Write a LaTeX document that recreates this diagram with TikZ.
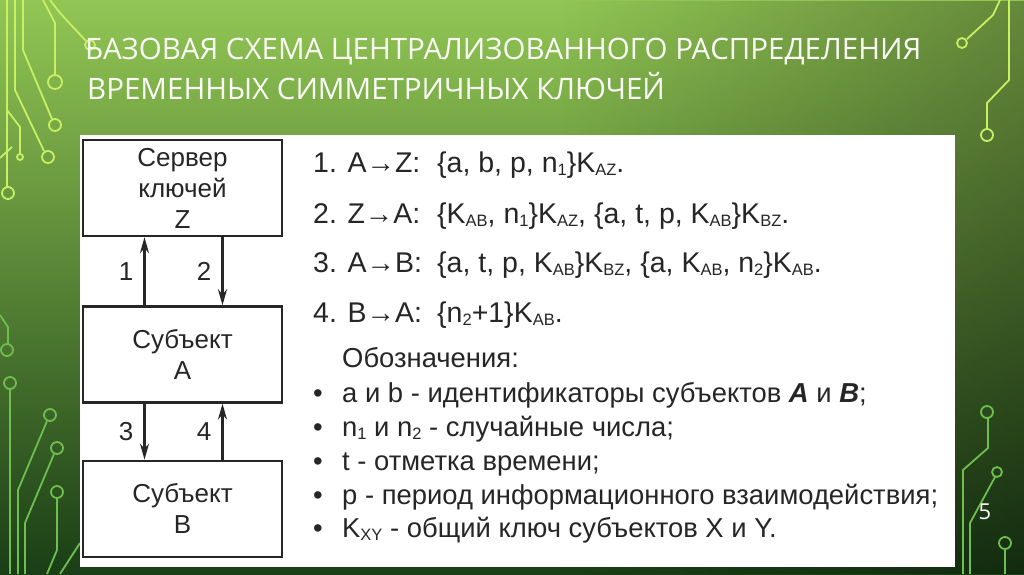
\documentclass[tikz,border=0pt]{standalone}
\usepackage{fontspec}
\setmainfont{Liberation Sans}
\newfontfamily\titlefont{Open Sans}
\usetikzlibrary{positioning,arrows.meta,fadings}
\definecolor{gtop}{RGB}{146,198,84}
\definecolor{gmid}{RGB}{96,160,60}
\definecolor{gbot}{RGB}{26,62,22}
\definecolor{tracehi}{RGB}{200,240,100}
\definecolor{tracelo}{RGB}{110,190,80}
\definecolor{ink}{RGB}{38,38,38}
\tikzfading[name=fadeleft, left color=transparent!100, right color=transparent!0]
\tikzstyle{unit}  = [rectangle, draw=ink, line width=2.4pt, minimum width=199pt, minimum height=96pt, align=center, text=ink, font=\fontsize{26}{31}\selectfont]
\tikzstyle{flow}  = [line width=2.4pt, draw=ink, -{Stealth[length=16pt,width=9pt]}]
\tikzstyle{num}   = [text=ink, font=\fontsize{26}{30}\selectfont, left, inner sep=10pt]
\tikzstyle{msg}   = [anchor=base west, inner sep=0pt, text=ink, font=\fontsize{28.5}{32}\selectfont]
\tikzstyle{legend}= [anchor=base west, inner sep=0pt, text=ink, font=\fontsize{27.4}{32}\selectfont]
\tikzstyle{trace} = [line width=1.8pt, draw=tracehi]
\tikzstyle{tracedark} = [line width=1.8pt, draw=tracelo]
\newcommand{\kx}[1]{\raisebox{-3pt}{\fontsize{16.5}{16.5}\selectfont #1}}

\begin{document}
\begin{tikzpicture}[x=1pt,y=-1pt]
    % slide background
    \useasboundingbox (0,0) rectangle (1024,574);
    \shade[top color=gtop, middle color=gmid, bottom color=gbot] (0,0) rectangle (1024,574);
    \fill[black, opacity=0.3, path fading=fadeleft] (560,0) rectangle (1024,574);

    % circuit traces, top left
    \draw[trace] (7,0) -- (7,187);          \draw[trace] (8,193) circle (6pt);
    \draw[trace] (15,0) -- (15,90) -- (44,151); \draw[trace] (48,157) circle (6pt);
    \draw[trace] (23,0) -- (23,50) -- (52,119); \draw[trace] (55,125) circle (6pt);
    \draw[trace] (43,0) -- (55,23) -- (55,75);  \draw[trace] (55,82) circle (7pt);
    \draw[trace] (50,0) -- (60,13) -- (86,41);  \draw[trace] (90,45) circle (5pt);
    \draw[trace] (7,110) -- (20,127) -- (20,154); \draw[trace] (20,157) circle (3pt);
    \draw[trace] (0,158) -- (12,147);
    % circuit traces, bottom left
    \draw[tracedark] (0,315) -- (8,327) -- (8,344); \draw[tracedark] (7,350) circle (6pt);
    \draw[tracedark] (10,389) -- (10,574);  \draw[tracedark] (10,383) circle (6pt);
    \draw[tracedark] (47,421) -- (18,490) -- (18,574); \draw[tracedark] (50,415) circle (6pt);
    \draw[tracedark] (54,454) -- (25,523) -- (25,574); \draw[tracedark] (57,448) circle (6pt);
    \draw[tracedark] (57,498) -- (57,550) -- (47,574); \draw[tracedark] (57,492) circle (6pt);
    \draw[tracedark] (80,543) -- (60,574);
    % circuit traces, right
    \draw[trace] (1000,0) -- (993,15) -- (967,39); \draw[trace] (962,43) circle (5pt);
    \draw[trace] (1009,0) -- (1009,80) -- (987,103) -- (987,129); \draw[trace] (987,135) circle (6pt);
    \draw[tracedark] (988,418) -- (988,448) -- (963,470) -- (963,574); \draw[tracedark] (987,412) circle (6pt);
    \draw[tracedark] (995,477) -- (970,523) -- (970,574); \draw[tracedark] (997,472) circle (5pt);
    \draw[tracedark] (1005,549) -- (1005,574); \draw[tracedark] (1005,543) circle (6pt);

    % title
    \node[anchor=base west, inner sep=0pt, text=white!95!gtop, font=\titlefont\fontsize{29.5}{34}\selectfont] (title1) at (85,59) {БАЗОВАЯ СХЕМА ЦЕНТРАЛИЗОВАННОГО РАСПРЕДЕЛЕНИЯ};
    \node[anchor=base west, inner sep=0pt, text=white!95!gtop, font=\titlefont\fontsize{29.5}{34}\selectfont] (title2) at (87,99) {ВРЕМЕННЫХ СИММЕТРИЧНЫХ КЛЮЧЕЙ};
    \node[text=white, font=\titlefont\fontsize{22}{24}\selectfont] (page) at (985,512) {5};

    % white panel
    \fill[white] (80,135) rectangle (955,567);

    % subjects
    \node[unit] (srvZ) at (182.5,188) {Сервер\\ключей\\Z};
    \node[unit, below=68pt of srvZ] (subA) {Субъект\\A};
    \node[unit, below=56pt of subA] (subB) {Субъект\\B};

    \draw[flow] ([xshift=-38pt]subA.north) -- node[num] {1} ([xshift=-38pt]srvZ.south);
    \draw[flow] ([xshift=40pt]srvZ.south) -- node[num] {2} ([xshift=40pt]subA.north);
    \draw[flow] ([xshift=-38pt]subA.south) -- node[num] {3} ([xshift=-38pt]subB.north);
    \draw[flow] ([xshift=40pt]subB.north) -- node[num] {4} ([xshift=40pt]subA.south);

    % protocol steps
    \node[msg] (step1) at (313,172) {1. A→Z:};
    \node[msg] (msg1) at (437,172) {\{a, b, p, n\kx{1}\}K\kx{AZ}.};
    \node[msg] (step2) at (313,223) {2. Z→A:};
    \node[msg] (msg2) at (437,223) {\{K\kx{AB}, n\kx{1}\}K\kx{AZ}, \{a, t, p, K\kx{AB}\}K\kx{BZ}.};
    \node[msg] (step3) at (313,272) {3. A→B:};
    \node[msg] (msg3) at (437,272) {\{a, t, p, K\kx{AB}\}K\kx{BZ}, \{a, K\kx{AB}, n\kx{2}\}K\kx{AB}.};
    \node[msg] (step4) at (313,322) {4. B→A:};
    \node[msg] (msg4) at (437,322) {\{n\kx{2}+1\}K\kx{AB}.};

    % notation
    \node[legend] (notes) at (342,367) {Обозначения:};
    \node[legend] (item1) at (342,402) {a и b - идентификаторы субъектов \textbf{\textit{A}} и \textbf{\textit{B}};};
    \node[legend] (item2) at (342,436) {n\kx{1} и n\kx{2} - случайные числа;};
    \node[legend] (item3) at (342,470) {t - отметка времени;};
    \node[legend] (item4) at (342,504) {p - период информационного взаимодействия;};
    \node[legend] (item5) at (342,537) {K\kx{XY} - общий ключ субъектов X и Y.};
    \foreach \y in {402,436,470,504,537}
        \node[legend, anchor=base] at (318,\y) {•};
\end{tikzpicture}
\end{document}
